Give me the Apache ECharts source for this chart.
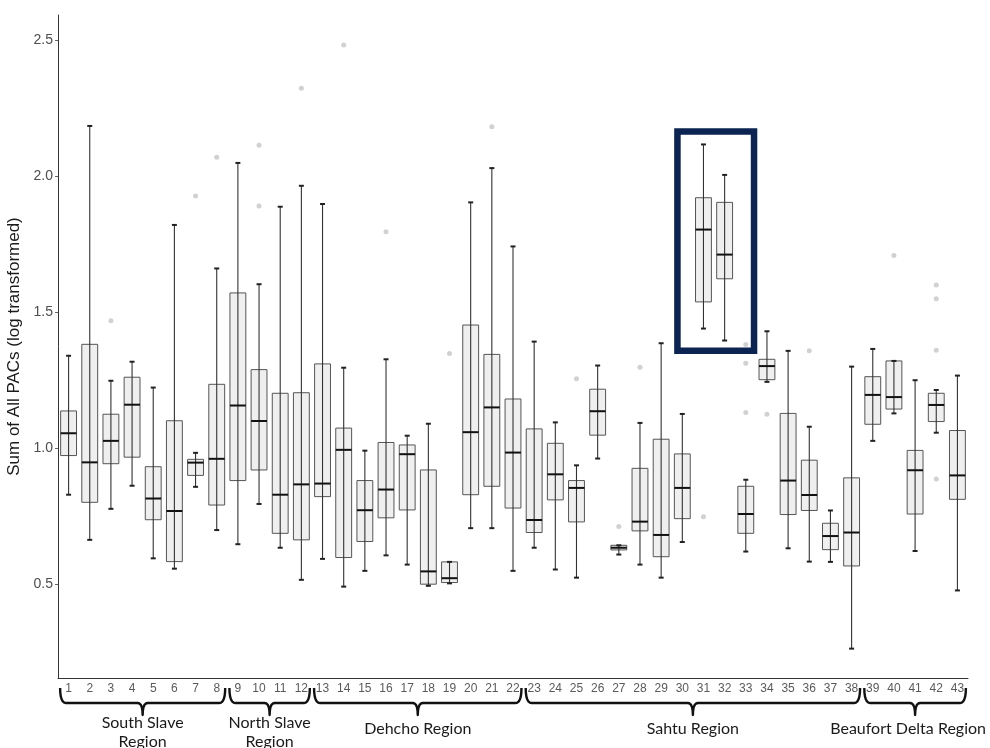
<!DOCTYPE html>
<html>
<head>
<meta charset="utf-8">
<script src="https://cdn.jsdelivr.net/npm/echarts@6/dist/echarts.min.js"></script>
<style>
  html, body { margin: 0; padding: 0; background: #fff; }
  #main { width: 990px; height: 748px; }
</style>
</head>
<body>
<div id="main"></div>
<script>
// sites 1..43
const categories = Array.from({length: 43}, (_, i) => String(i + 1));

// box stats (log transformed sum of PACs)
const whiskerLow = [0.828,0.662,0.776,0.861,0.594,0.556,0.857,0.698,0.646,0.794,0.633,0.515,0.592,0.490,0.548,0.605,0.571,0.493,0.502,0.705,0.705,0.548,0.633,0.553,0.523,0.961,0.608,0.571,0.523,0.654,1.439,1.395,0.619,1.243,0.631,0.582,0.581,0.262,1.026,1.127,0.621,1.056,0.476];
const q1 = [0.972,0.800,0.942,0.966,0.736,0.582,0.899,0.790,0.880,0.919,0.686,0.662,0.821,0.597,0.656,0.743,0.772,0.499,0.505,0.828,0.859,0.779,0.689,0.809,0.728,1.047,0.625,0.695,0.600,0.740,1.537,1.622,0.686,1.251,0.755,0.770,0.626,0.566,1.087,1.143,0.757,1.097,0.811];
const median = [1.054,0.947,1.026,1.159,0.814,0.768,0.946,0.960,1.156,1.099,0.828,0.866,0.869,0.993,0.771,0.847,0.977,0.546,0.521,1.058,1.149,0.983,0.735,0.903,0.853,1.135,0.633,0.729,0.680,0.853,1.803,1.711,0.757,1.301,0.880,0.827,0.676,0.689,1.195,1.187,0.918,1.158,0.899];
const q3 = [1.136,1.381,1.124,1.260,0.931,1.100,0.958,1.234,1.570,1.288,1.201,1.203,1.309,1.073,0.880,1.020,1.011,0.919,0.581,1.452,1.344,1.180,1.070,1.017,0.880,1.216,0.642,0.925,1.032,0.978,1.920,1.903,0.859,1.326,1.127,0.955,0.723,0.890,1.262,1.320,0.991,1.201,1.064];
const whiskerHigh = [1.339,2.184,1.247,1.317,1.222,1.820,0.982,1.660,2.048,1.602,1.887,1.964,1.897,1.295,0.990,1.326,1.045,1.089,0.581,1.903,2.029,1.741,1.391,1.094,0.936,1.303,0.642,1.092,1.385,1.125,2.116,2.004,0.883,1.429,1.357,1.078,0.770,1.299,1.364,1.320,1.249,1.213,1.266];

// outliers: [site, value]
const outliers = [
  [3,1.468],[7,1.926],[8,2.069],[10,2.113],[10,1.890],[12,2.323],[14,2.482],
  [16,1.795],[19,1.347],[21,2.181],[25,1.254],[27,0.711],[28,1.297],[31,0.747],
  [33,1.380],[33,1.311],[33,1.130],[34,1.124],[36,1.357],[40,1.708],
  [42,1.599],[42,1.549],[42,1.359],[42,0.886]
];

const yTicks = [0.5, 1.0, 1.5, 2.0, 2.5];

// regions: label, first site, last site
const regionNames = ['South Slave\nRegion', 'North Slave\nRegion', 'Dehcho Region', 'Sahtu Region', 'Beaufort Delta Region'];
const regionFirst = [1, 9, 13, 23, 39];
const regionLast = [8, 12, 22, 38, 43];

// highlighted sites
const highlightSites = [31, 32];
const highlightRange = [1.357, 2.164];

const boxData = categories.map((c, i) => [i, whiskerLow[i], q1[i], median[i], q3[i], whiskerHigh[i]]);

const chart = echarts.init(document.getElementById('main'));

function renderBox(params, api) {
  const idx = api.value(0);
  const x = api.coord([idx, 0])[0];
  const w = api.size([1, 0])[0] * 0.75;
  const y = v => api.coord([idx, v])[1];
  const yLo = y(api.value(1)), yQ1 = y(api.value(2)), yMed = y(api.value(3));
  const yQ3 = y(api.value(4)), yHi = y(api.value(5));
  return {
    type: 'group',
    children: [
      {type: 'rect', shape: {x: x - w / 2, y: yQ3, width: w, height: yQ1 - yQ3},
       style: {fill: '#efefef', stroke: '#555', lineWidth: 1}},
      {type: 'line', shape: {x1: x, y1: yLo, x2: x, y2: yHi},
       style: {stroke: '#333', lineWidth: 1.1}},
      {type: 'line', shape: {x1: x - 2.5, y1: yLo, x2: x + 2.5, y2: yLo},
       style: {stroke: '#222', lineWidth: 2}},
      {type: 'line', shape: {x1: x - 2.5, y1: yHi, x2: x + 2.5, y2: yHi},
       style: {stroke: '#222', lineWidth: 2}},
      {type: 'line', shape: {x1: x - w / 2, y1: yMed, x2: x + w / 2, y2: yMed},
       style: {stroke: '#111', lineWidth: 2}}
    ]
  };
}

chart.setOption({
  animation: false,
  backgroundColor: '#fff',
  grid: {left: 58, right: 22, top: 15, bottom: 70, outerBoundsMode: 'none'},
  xAxis: {
    type: 'category',
    data: categories,
    boundaryGap: true,
    axisLine: {lineStyle: {color: '#333', width: 1}},
    axisTick: {alignWithLabel: true, length: 3, lineStyle: {color: '#666'}},
    axisLabel: {interval: 0, color: '#5a5a5a', fontSize: 12, margin: 5, fontFamily: 'Liberation Sans'},
    splitLine: {show: false}
  },
  yAxis: {
    type: 'value',
    min: 0.154,
    max: 2.592,
    name: 'Sum of All PACs (log transformed)',
    nameLocation: 'middle',
    nameGap: 24,
    nameTextStyle: {color: '#1a1a1a', fontSize: 17, fontFamily: 'Liberation Sans'},
    axisLine: {show: true, lineStyle: {color: '#333', width: 1}},
    axisTick: {show: true, length: 3, customValues: yTicks, lineStyle: {color: '#666'}},
    axisLabel: {customValues: yTicks, color: '#4d4d4d', fontSize: 14, margin: 5,
      fontFamily: 'Liberation Sans', formatter: v => v.toFixed(1)},
    splitLine: {show: false}
  },
  series: [
    {
      type: 'scatter',
      data: outliers.map(o => [o[0] - 1, o[1]]),
      symbolSize: 5,
      itemStyle: {color: '#c6c6c6'},
      z: 1
    },
    {
      type: 'custom',
      renderItem: renderBox,
      data: boxData,
      encode: {x: 0, y: [1, 2, 3, 4, 5]},
      z: 2
    }
  ]
});

// annotations: region brackets + highlight frame
const px = i => chart.convertToPixel({xAxisIndex: 0}, i);
const py = v => chart.convertToPixel({yAxisIndex: 0}, v);
const band = px(1) - px(0);
const base = py(0.154);
const graphics = [];

const labelFont = '16px Lato';
const measure = document.createElement('canvas').getContext('2d');
measure.font = labelFont;

// sample a quadratic curve into points
function quad(p0, c, p1, n) {
  const pts = [];
  for (let k = 1; k <= n; k++) {
    const t = k / n, u = 1 - t;
    pts.push([u * u * p0[0] + 2 * u * t * c[0] + t * t * p1[0],
              u * u * p0[1] + 2 * u * t * c[1] + t * t * p1[1]]);
  }
  return pts;
}

regionNames.forEach((name, r) => {
  const x0 = px(regionFirst[r] - 1) - 0.4 * band;
  const x1 = px(regionLast[r] - 1) + 0.4 * band;
  const xc = (x0 + x1) / 2;
  const yTop = base + 10, yMid = base + 25, yTip = base + 37;
  let pts = [[x0, yTop]];
  pts = pts.concat(quad([x0, yTop], [x0, yMid], [x0 + 6, yMid], 6));
  pts.push([xc - 5, yMid]);
  pts = pts.concat(quad([xc - 5, yMid], [xc, yMid], [xc, yTip], 5));
  pts = pts.concat(quad([xc, yTip], [xc, yMid], [xc + 5, yMid], 5));
  pts.push([x1 - 6, yMid]);
  pts = pts.concat(quad([x1 - 6, yMid], [x1, yMid], [x1, yTop], 6));
  graphics.push({type: 'polyline', shape: {points: pts}, silent: true,
    style: {stroke: '#111', lineWidth: 2.4, fill: null, lineJoin: 'round'}});
  const twoLines = name.indexOf('\n') >= 0;
  // keep the label inside the canvas
  const halfW = Math.max(...name.split('\n').map(s => measure.measureText(s).width)) / 2;
  const tx = Math.min(xc, chart.getWidth() - 4 - halfW);
  graphics.push({
    type: 'text', silent: true,
    style: {text: name, x: tx, y: base + (twoLines ? 35 : 41), align: 'center', verticalAlign: 'top',
      fontSize: 16, lineHeight: 19, fontFamily: 'Lato', fill: '#1a1a1a'}
  });
});

const hx0 = px(highlightSites[0] - 1) - 1.23 * band;
const hx1 = px(highlightSites[1] - 1) + 1.39 * band;
const hy0 = py(highlightRange[1]);
const hy1 = py(highlightRange[0]);
graphics.push({
  type: 'rect', silent: true,
  shape: {x: hx0, y: hy0, width: hx1 - hx0, height: hy1 - hy0},
  style: {stroke: '#0b2452', lineWidth: 6.5, fill: null}
});

chart.setOption({graphic: graphics});
</script>
</body>
</html>
